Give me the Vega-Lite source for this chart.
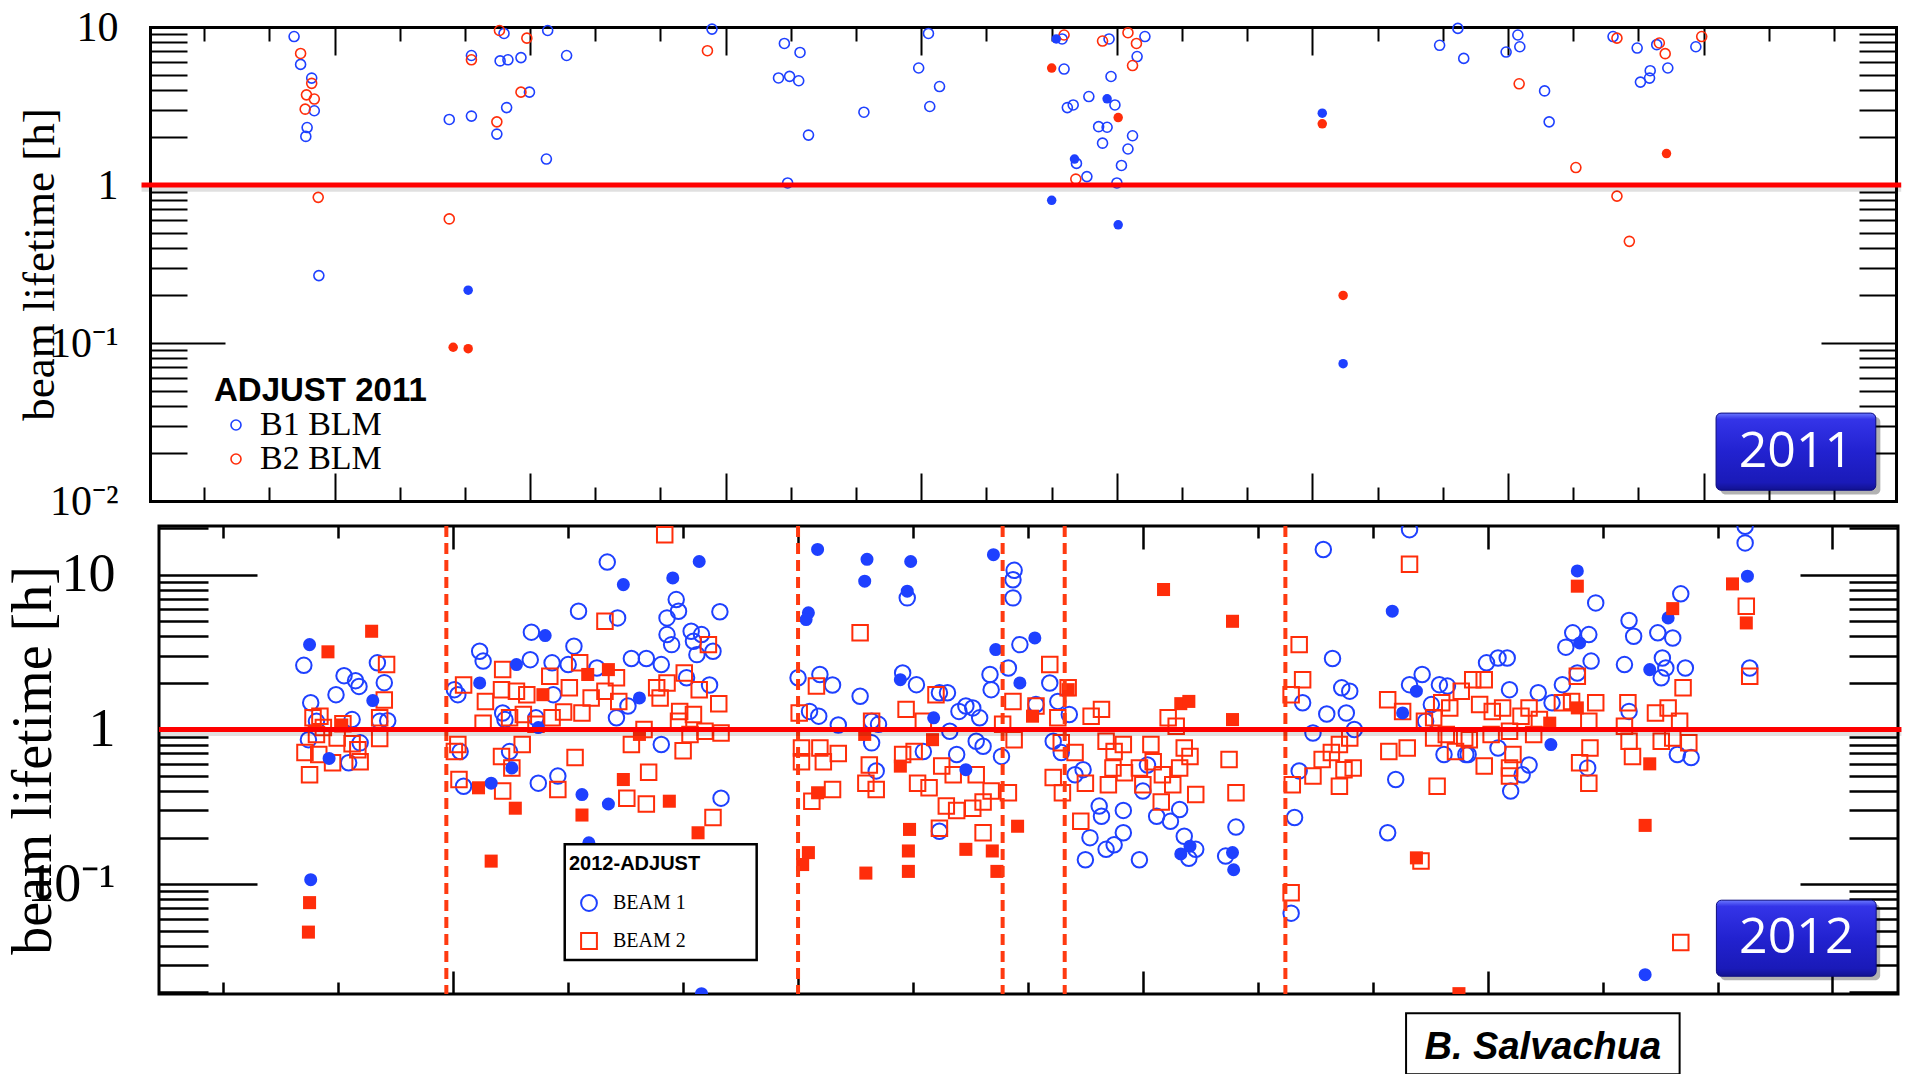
{
"$schema": "https://vega.github.io/schema/vega-lite/v6.json",
"background": "white",
"padding": {"left": 3, "top": 6, "right": 0, "bottom": 0},
"spacing": 0,
"config": {"view": {"stroke": "#000", "strokeWidth": 3}, "axis": {"grid": false, "labelFont": "Liberation Serif", "titleFont": "Liberation Serif"}},
"datasets": {
"y2011": [
{"d":13.8,"v":8.7,"b":"B1 BLM","f":0},{"d":14.8,"v":5.8,"b":"B1 BLM","f":0},{"d":16.5,"v":4.75,"b":"B1 BLM","f":0},{"d":16.9,"v":2.95,"b":"B1 BLM","f":0},{"d":15.8,"v":2.31,"b":"B1 BLM","f":0},{"d":15.6,"v":2.03,"b":"B1 BLM","f":0},{"d":17.6,"v":0.267,"b":"B1 BLM","f":0},{"d":37.6,"v":2.6,"b":"B1 BLM","f":0},{"d":41.0,"v":2.73,"b":"B1 BLM","f":0},{"d":41.0,"v":6.6,"b":"B1 BLM","f":0},{"d":44.9,"v":2.1,"b":"B1 BLM","f":0},{"d":45.4,"v":6.1,"b":"B1 BLM","f":0},{"d":46.0,"v":9.1,"b":"B1 BLM","f":0},{"d":46.6,"v":6.2,"b":"B1 BLM","f":0},{"d":48.6,"v":6.4,"b":"B1 BLM","f":0},{"d":46.4,"v":3.09,"b":"B1 BLM","f":0},{"d":49.9,"v":3.87,"b":"B1 BLM","f":0},{"d":52.7,"v":9.5,"b":"B1 BLM","f":0},{"d":52.5,"v":1.46,"b":"B1 BLM","f":0},{"d":55.6,"v":6.6,"b":"B1 BLM","f":0},
{"d":77.9,"v":9.7,"b":"B1 BLM","f":0},{"d":89.0,"v":7.87,"b":"B1 BLM","f":0},{"d":91.4,"v":6.9,"b":"B1 BLM","f":0},{"d":88.1,"v":4.76,"b":"B1 BLM","f":0},{"d":89.8,"v":4.87,"b":"B1 BLM","f":0},{"d":91.2,"v":4.57,"b":"B1 BLM","f":0},{"d":92.7,"v":2.07,"b":"B1 BLM","f":0},{"d":89.5,"v":1.03,"b":"B1 BLM","f":0},{"d":101.2,"v":2.89,"b":"B1 BLM","f":0},{"d":109.6,"v":5.5,"b":"B1 BLM","f":0},{"d":111.1,"v":9.1,"b":"B1 BLM","f":0},{"d":112.8,"v":4.2,"b":"B1 BLM","f":0},{"d":111.3,"v":3.14,"b":"B1 BLM","f":0},{"d":131.9,"v":5.42,"b":"B1 BLM","f":0},{"d":131.6,"v":8.4,"b":"B1 BLM","f":0},{"d":132.4,"v":3.09,"b":"B1 BLM","f":0},{"d":133.3,"v":3.21,"b":"B1 BLM","f":0},{"d":135.7,"v":3.63,"b":"B1 BLM","f":0},{"d":138.8,"v":8.4,"b":"B1 BLM","f":0},{"d":139.1,"v":4.86,"b":"B1 BLM","f":0},{"d":139.7,"v":3.21,"b":"B1 BLM","f":0},{"d":137.2,"v":2.34,"b":"B1 BLM","f":0},{"d":138.5,"v":2.32,"b":"B1 BLM","f":0},{"d":142.4,"v":2.05,"b":"B1 BLM","f":0},{"d":137.8,"v":1.84,"b":"B1 BLM","f":0},{"d":141.7,"v":1.69,"b":"B1 BLM","f":0},{"d":140.7,"v":1.33,"b":"B1 BLM","f":0},{"d":135.4,"v":1.13,"b":"B1 BLM","f":0},{"d":133.8,"v":1.37,"b":"B1 BLM","f":0},{"d":140.0,"v":1.03,"b":"B1 BLM","f":0},{"d":143.1,"v":6.5,"b":"B1 BLM","f":0},{"d":144.3,"v":8.7,"b":"B1 BLM","f":0},
{"d":192.3,"v":9.8,"b":"B1 BLM","f":0},{"d":189.5,"v":7.66,"b":"B1 BLM","f":0},{"d":193.2,"v":6.33,"b":"B1 BLM","f":0},{"d":199.7,"v":6.94,"b":"B1 BLM","f":0},{"d":201.5,"v":8.9,"b":"B1 BLM","f":0},{"d":201.8,"v":7.5,"b":"B1 BLM","f":0},{"d":205.6,"v":3.94,"b":"B1 BLM","f":0},{"d":206.3,"v":2.51,"b":"B1 BLM","f":0},{"d":216.1,"v":8.7,"b":"B1 BLM","f":0},{"d":219.8,"v":7.36,"b":"B1 BLM","f":0},{"d":222.8,"v":7.73,"b":"B1 BLM","f":0},{"d":224.5,"v":5.5,"b":"B1 BLM","f":0},{"d":221.8,"v":5.29,"b":"B1 BLM","f":0},{"d":221.7,"v":4.75,"b":"B1 BLM","f":0},{"d":220.3,"v":4.48,"b":"B1 BLM","f":0},{"d":228.8,"v":7.5,"b":"B1 BLM","f":0},
{"d":14.8,"v":6.8,"b":"B2 BLM","f":0},{"d":16.5,"v":4.4,"b":"B2 BLM","f":0},{"d":15.7,"v":3.72,"b":"B2 BLM","f":0},{"d":16.9,"v":3.5,"b":"B2 BLM","f":0},{"d":15.5,"v":3.02,"b":"B2 BLM","f":0},{"d":17.5,"v":0.835,"b":"B2 BLM","f":0},{"d":37.6,"v":0.61,"b":"B2 BLM","f":0},{"d":41.0,"v":6.2,"b":"B2 BLM","f":0},{"d":45.3,"v":9.5,"b":"B2 BLM","f":0},{"d":49.5,"v":8.5,"b":"B2 BLM","f":0},{"d":48.6,"v":3.87,"b":"B2 BLM","f":0},{"d":44.9,"v":2.51,"b":"B2 BLM","f":0},{"d":77.2,"v":7.08,"b":"B2 BLM","f":0},{"d":131.9,"v":8.9,"b":"B2 BLM","f":0},{"d":137.8,"v":8.15,"b":"B2 BLM","f":0},{"d":141.7,"v":9.2,"b":"B2 BLM","f":0},{"d":143.0,"v":7.87,"b":"B2 BLM","f":0},{"d":142.4,"v":5.7,"b":"B2 BLM","f":0},{"d":133.7,"v":1.09,"b":"B2 BLM","f":0},{"d":201.7,"v":4.37,"b":"B2 BLM","f":0},{"d":216.7,"v":8.5,"b":"B2 BLM","f":0},{"d":223.2,"v":7.92,"b":"B2 BLM","f":0},{"d":224.1,"v":6.78,"b":"B2 BLM","f":0},{"d":229.7,"v":8.7,"b":"B2 BLM","f":0},{"d":210.4,"v":1.29,"b":"B2 BLM","f":0},{"d":216.7,"v":0.85,"b":"B2 BLM","f":0},{"d":218.6,"v":0.44,"b":"B2 BLM","f":0},
{"d":40.5,"v":0.216,"b":"B1 BLM","f":1},{"d":130.7,"v":8.4,"b":"B1 BLM","f":1},{"d":138.5,"v":3.51,"b":"B1 BLM","f":1},{"d":133.5,"v":1.46,"b":"B1 BLM","f":1},{"d":130.0,"v":0.80,"b":"B1 BLM","f":1},{"d":140.2,"v":0.56,"b":"B1 BLM","f":1},{"d":171.5,"v":2.85,"b":"B1 BLM","f":1},{"d":174.7,"v":0.074,"b":"B1 BLM","f":1},
{"d":38.2,"v":0.094,"b":"B2 BLM","f":1},{"d":40.5,"v":0.092,"b":"B2 BLM","f":1},{"d":130.0,"v":5.5,"b":"B2 BLM","f":1},{"d":140.2,"v":2.67,"b":"B2 BLM","f":1},{"d":171.5,"v":2.44,"b":"B2 BLM","f":1},{"d":174.7,"v":0.2,"b":"B2 BLM","f":1},{"d":224.3,"v":1.58,"b":"B2 BLM","f":1}
],
"dash": [{"u":19.4},{"u":50.0},{"u":67.8},{"u":73.2},{"u":92.4}],
"y2012": [
{"u":7.5,"v":3.54,"b":"BEAM 1","f":1},{"u":13.0,"v":1.54,"b":"BEAM 1","f":1},{"u":9.2,"v":0.65,"b":"BEAM 1","f":1},{"u":7.6,"v":0.107,"b":"BEAM 1","f":1},{"u":22.3,"v":2.0,"b":"BEAM 1","f":1},{"u":25.5,"v":2.63,"b":"BEAM 1","f":1},{"u":28.0,"v":4.05,"b":"BEAM 1","f":1},{"u":23.3,"v":0.45,"b":"BEAM 1","f":1},{"u":31.2,"v":0.38,"b":"BEAM 1","f":1},{"u":31.8,"v":0.185,"b":"BEAM 1","f":1},{"u":25.1,"v":0.565,"b":"BEAM 1","f":1},{"u":27.4,"v":1.03,"b":"BEAM 1","f":1},{"u":34.8,"v":8.65,"b":"BEAM 1","f":1},{"u":39.1,"v":9.55,"b":"BEAM 1","f":1},{"u":41.4,"v":12.2,"b":"BEAM 1","f":1},{"u":36.2,"v":1.6,"b":"BEAM 1","f":1},{"u":33.5,"v":0.33,"b":"BEAM 1","f":1},{"u":41.6,"v":0.0196,"b":"BEAM 1","f":1},{"u":51.7,"v":14.6,"b":"BEAM 1","f":1},{"u":50.9,"v":5.68,"b":"BEAM 1","f":1},{"u":50.7,"v":5.14,"b":"BEAM 1","f":1},{"u":56.0,"v":12.6,"b":"BEAM 1","f":1},{"u":55.8,"v":9.1,"b":"BEAM 1","f":1},{"u":59.8,"v":12.2,"b":"BEAM 1","f":1},{"u":59.5,"v":7.84,"b":"BEAM 1","f":1},{"u":67.0,"v":13.5,"b":"BEAM 1","f":1},{"u":67.2,"v":3.29,"b":"BEAM 1","f":1},{"u":69.3,"v":2.0,"b":"BEAM 1","f":1},{"u":70.6,"v":3.91,"b":"BEAM 1","f":1},{"u":58.9,"v":2.1,"b":"BEAM 1","f":1},{"u":61.8,"v":1.19,"b":"BEAM 1","f":1},{"u":64.6,"v":0.55,"b":"BEAM 1","f":1},{"u":83.3,"v":0.157,"b":"BEAM 1","f":1},{"u":84.1,"v":0.176,"b":"BEAM 1","f":1},{"u":87.8,"v":0.16,"b":"BEAM 1","f":1},{"u":87.9,"v":0.124,"b":"BEAM 1","f":1},{"u":101.7,"v":5.82,"b":"BEAM 1","f":1},{"u":103.8,"v":1.77,"b":"BEAM 1","f":1},{"u":102.6,"v":1.28,"b":"BEAM 1","f":1},{"u":117.8,"v":10.6,"b":"BEAM 1","f":1},{"u":118.0,"v":3.63,"b":"BEAM 1","f":1},{"u":124.1,"v":2.44,"b":"BEAM 1","f":1},{"u":115.5,"v":0.8,"b":"BEAM 1","f":1},{"u":132.6,"v":9.8,"b":"BEAM 1","f":1},{"u":123.7,"v":0.026,"b":"BEAM 1","f":1},{"u":125.7,"v":5.27,"b":"BEAM 1","f":1},
{"u":9.1,"v":3.18,"b":"BEAM 2","f":1},{"u":12.9,"v":4.32,"b":"BEAM 2","f":1},{"u":7.5,"v":0.076,"b":"BEAM 2","f":1},{"u":7.4,"v":0.049,"b":"BEAM 2","f":1},{"u":10.3,"v":1.07,"b":"BEAM 2","f":1},{"u":22.2,"v":0.42,"b":"BEAM 2","f":1},{"u":25.4,"v":0.31,"b":"BEAM 2","f":1},{"u":23.3,"v":0.141,"b":"BEAM 2","f":1},{"u":31.2,"v":0.28,"b":"BEAM 2","f":1},{"u":27.8,"v":1.68,"b":"BEAM 2","f":1},{"u":31.7,"v":2.27,"b":"BEAM 2","f":1},{"u":33.5,"v":2.44,"b":"BEAM 2","f":1},{"u":34.8,"v":0.475,"b":"BEAM 2","f":1},{"u":38.8,"v":0.344,"b":"BEAM 2","f":1},{"u":41.3,"v":0.215,"b":"BEAM 2","f":1},{"u":36.2,"v":0.93,"b":"BEAM 2","f":1},{"u":50.9,"v":0.16,"b":"BEAM 2","f":1},{"u":50.4,"v":0.134,"b":"BEAM 2","f":1},{"u":51.7,"v":0.39,"b":"BEAM 2","f":1},{"u":55.9,"v":0.118,"b":"BEAM 2","f":1},{"u":59.7,"v":0.226,"b":"BEAM 2","f":1},{"u":59.6,"v":0.164,"b":"BEAM 2","f":1},{"u":59.6,"v":0.121,"b":"BEAM 2","f":1},{"u":64.6,"v":0.168,"b":"BEAM 2","f":1},{"u":66.9,"v":0.164,"b":"BEAM 2","f":1},{"u":67.3,"v":0.121,"b":"BEAM 2","f":1},{"u":69.1,"v":0.237,"b":"BEAM 2","f":1},{"u":58.9,"v":0.58,"b":"BEAM 2","f":1},{"u":55.8,"v":0.93,"b":"BEAM 2","f":1},{"u":61.7,"v":0.86,"b":"BEAM 2","f":1},{"u":70.4,"v":1.22,"b":"BEAM 2","f":1},{"u":73.5,"v":1.81,"b":"BEAM 2","f":1},{"u":81.8,"v":8.04,"b":"BEAM 2","f":1},{"u":87.8,"v":5.01,"b":"BEAM 2","f":1},{"u":87.8,"v":1.16,"b":"BEAM 2","f":1},{"u":83.3,"v":1.47,"b":"BEAM 2","f":1},{"u":84.0,"v":1.52,"b":"BEAM 2","f":1},{"u":103.8,"v":0.148,"b":"BEAM 2","f":1},{"u":107.5,"v":0.0196,"b":"BEAM 2","f":1},{"u":117.8,"v":8.45,"b":"BEAM 2","f":1},{"u":131.3,"v":8.74,"b":"BEAM 2","f":1},{"u":126.1,"v":6.05,"b":"BEAM 2","f":1},{"u":132.5,"v":4.89,"b":"BEAM 2","f":1},{"u":124.1,"v":0.6,"b":"BEAM 2","f":1},{"u":123.7,"v":0.24,"b":"BEAM 2","f":1},{"u":115.4,"v":1.1,"b":"BEAM 2","f":1},{"u":117.8,"v":1.38,"b":"BEAM 2","f":1},
{"u":7.0,"v":2.6,"b":"BEAM 1","f":0},{"u":7.6,"v":1.49,"b":"BEAM 1","f":0},{"u":9.8,"v":1.68,"b":"BEAM 1","f":0},{"u":10.5,"v":2.23,"b":"BEAM 1","f":0},{"u":11.5,"v":2.07,"b":"BEAM 1","f":0},{"u":11.8,"v":1.9,"b":"BEAM 1","f":0},{"u":13.4,"v":2.7,"b":"BEAM 1","f":0},{"u":14.0,"v":2.01,"b":"BEAM 1","f":0},{"u":11.2,"v":1.16,"b":"BEAM 1","f":0},{"u":14.3,"v":1.14,"b":"BEAM 1","f":0},{"u":7.4,"v":0.86,"b":"BEAM 1","f":0},{"u":8.1,"v":1.13,"b":"BEAM 1","f":0},{"u":10.9,"v":0.61,"b":"BEAM 1","f":0},{"u":11.9,"v":0.82,"b":"BEAM 1","f":0},{"u":13.6,"v":1.13,"b":"BEAM 1","f":0},
{"u":20.4,"v":1.68,"b":"BEAM 1","f":0},{"u":20.1,"v":1.81,"b":"BEAM 1","f":0},{"u":22.3,"v":3.21,"b":"BEAM 1","f":0},{"u":22.6,"v":2.77,"b":"BEAM 1","f":0},{"u":26.8,"v":4.26,"b":"BEAM 1","f":0},{"u":26.7,"v":2.83,"b":"BEAM 1","f":0},{"u":28.6,"v":2.7,"b":"BEAM 1","f":0},{"u":30.9,"v":5.82,"b":"BEAM 1","f":0},{"u":30.5,"v":3.46,"b":"BEAM 1","f":0},{"u":30.0,"v":2.63,"b":"BEAM 1","f":0},{"u":24.3,"v":1.28,"b":"BEAM 1","f":0},{"u":24.5,"v":1.16,"b":"BEAM 1","f":0},{"u":20.6,"v":0.72,"b":"BEAM 1","f":0},{"u":20.9,"v":0.43,"b":"BEAM 1","f":0},{"u":27.4,"v":0.45,"b":"BEAM 1","f":0},{"u":29.1,"v":0.50,"b":"BEAM 1","f":0},{"u":24.9,"v":0.72,"b":"BEAM 1","f":0},{"u":28.7,"v":1.68,"b":"BEAM 1","f":0},{"u":27.2,"v":1.19,"b":"BEAM 1","f":0},
{"u":33.4,"v":12.1,"b":"BEAM 1","f":0},{"u":34.3,"v":5.27,"b":"BEAM 1","f":0},{"u":39.4,"v":6.92,"b":"BEAM 1","f":0},{"u":39.6,"v":5.82,"b":"BEAM 1","f":0},{"u":38.6,"v":5.27,"b":"BEAM 1","f":0},{"u":38.6,"v":4.11,"b":"BEAM 1","f":0},{"u":39.0,"v":3.54,"b":"BEAM 1","f":0},{"u":40.7,"v":4.32,"b":"BEAM 1","f":0},{"u":41.6,"v":4.11,"b":"BEAM 1","f":0},{"u":40.9,"v":3.72,"b":"BEAM 1","f":0},{"u":41.2,"v":3.05,"b":"BEAM 1","f":0},{"u":42.6,"v":3.21,"b":"BEAM 1","f":0},{"u":43.2,"v":5.77,"b":"BEAM 1","f":0},{"u":35.5,"v":2.88,"b":"BEAM 1","f":0},{"u":36.8,"v":2.88,"b":"BEAM 1","f":0},{"u":38.1,"v":2.63,"b":"BEAM 1","f":0},{"u":42.3,"v":1.94,"b":"BEAM 1","f":0},{"u":40.3,"v":2.16,"b":"BEAM 1","f":0},{"u":34.2,"v":1.19,"b":"BEAM 1","f":0},{"u":35.2,"v":1.42,"b":"BEAM 1","f":0},{"u":38.1,"v":0.8,"b":"BEAM 1","f":0},{"u":43.3,"v":0.36,"b":"BEAM 1","f":0},{"u":32.5,"v":2.5,"b":"BEAM 1","f":0},
{"u":50.0,"v":2.16,"b":"BEAM 1","f":0},{"u":51.9,"v":2.27,"b":"BEAM 1","f":0},{"u":53.0,"v":1.94,"b":"BEAM 1","f":0},{"u":55.4,"v":1.64,"b":"BEAM 1","f":0},{"u":51.0,"v":1.31,"b":"BEAM 1","f":0},{"u":51.8,"v":1.22,"b":"BEAM 1","f":0},{"u":53.5,"v":1.07,"b":"BEAM 1","f":0},{"u":56.4,"v":1.13,"b":"BEAM 1","f":0},{"u":57.0,"v":1.08,"b":"BEAM 1","f":0},{"u":56.4,"v":0.82,"b":"BEAM 1","f":0},{"u":56.8,"v":0.54,"b":"BEAM 1","f":0},{"u":59.1,"v":2.32,"b":"BEAM 1","f":0},{"u":60.3,"v":1.95,"b":"BEAM 1","f":0},{"u":62.3,"v":1.73,"b":"BEAM 1","f":0},{"u":63.0,"v":1.73,"b":"BEAM 1","f":0},{"u":64.0,"v":1.31,"b":"BEAM 1","f":0},{"u":64.6,"v":1.42,"b":"BEAM 1","f":0},{"u":65.2,"v":1.38,"b":"BEAM 1","f":0},{"u":65.8,"v":1.19,"b":"BEAM 1","f":0},{"u":63.2,"v":0.975,"b":"BEAM 1","f":0},{"u":65.5,"v":0.84,"b":"BEAM 1","f":0},{"u":66.1,"v":0.78,"b":"BEAM 1","f":0},{"u":60.9,"v":0.72,"b":"BEAM 1","f":0},{"u":63.8,"v":0.69,"b":"BEAM 1","f":0},{"u":67.7,"v":0.67,"b":"BEAM 1","f":0},{"u":66.7,"v":2.27,"b":"BEAM 1","f":0},{"u":66.8,"v":1.81,"b":"BEAM 1","f":0},{"u":68.3,"v":2.5,"b":"BEAM 1","f":0},{"u":69.3,"v":3.54,"b":"BEAM 1","f":0},{"u":68.8,"v":10.7,"b":"BEAM 1","f":0},{"u":68.7,"v":9.3,"b":"BEAM 1","f":0},{"u":68.7,"v":7.1,"b":"BEAM 1","f":0},{"u":59.5,"v":7.1,"b":"BEAM 1","f":0},{"u":62.3,"v":0.22,"b":"BEAM 1","f":0},
{"u":71.9,"v":2.0,"b":"BEAM 1","f":0},{"u":72.6,"v":1.52,"b":"BEAM 1","f":0},{"u":70.7,"v":1.45,"b":"BEAM 1","f":0},{"u":73.6,"v":1.25,"b":"BEAM 1","f":0},{"u":72.2,"v":0.84,"b":"BEAM 1","f":0},{"u":72.9,"v":0.71,"b":"BEAM 1","f":0},{"u":74.1,"v":0.51,"b":"BEAM 1","f":0},{"u":74.8,"v":0.55,"b":"BEAM 1","f":0},{"u":76.2,"v":0.32,"b":"BEAM 1","f":0},{"u":76.4,"v":0.275,"b":"BEAM 1","f":0},{"u":78.3,"v":0.3,"b":"BEAM 1","f":0},{"u":78.3,"v":0.215,"b":"BEAM 1","f":0},{"u":75.4,"v":0.2,"b":"BEAM 1","f":0},{"u":75.0,"v":0.144,"b":"BEAM 1","f":0},{"u":76.8,"v":0.168,"b":"BEAM 1","f":0},{"u":77.5,"v":0.18,"b":"BEAM 1","f":0},{"u":79.7,"v":0.144,"b":"BEAM 1","f":0},{"u":80.0,"v":0.4,"b":"BEAM 1","f":0},{"u":81.2,"v":0.275,"b":"BEAM 1","f":0},{"u":82.4,"v":0.255,"b":"BEAM 1","f":0},{"u":83.2,"v":0.304,"b":"BEAM 1","f":0},{"u":80.4,"v":0.59,"b":"BEAM 1","f":0},{"u":83.6,"v":0.204,"b":"BEAM 1","f":0},{"u":84.6,"v":0.168,"b":"BEAM 1","f":0},{"u":84.0,"v":0.147,"b":"BEAM 1","f":0},{"u":87.2,"v":0.152,"b":"BEAM 1","f":0},{"u":88.1,"v":0.234,"b":"BEAM 1","f":0},
{"u":95.7,"v":14.6,"b":"BEAM 1","f":0},{"u":103.2,"v":19.6,"b":"BEAM 1","f":0},{"u":96.5,"v":2.88,"b":"BEAM 1","f":0},{"u":97.3,"v":1.86,"b":"BEAM 1","f":0},{"u":98.0,"v":1.77,"b":"BEAM 1","f":0},{"u":93.9,"v":1.49,"b":"BEAM 1","f":0},{"u":94.8,"v":0.95,"b":"BEAM 1","f":0},{"u":96.0,"v":1.26,"b":"BEAM 1","f":0},{"u":97.7,"v":1.28,"b":"BEAM 1","f":0},{"u":98.4,"v":1.0,"b":"BEAM 1","f":0},{"u":93.6,"v":0.54,"b":"BEAM 1","f":0},{"u":93.2,"v":0.27,"b":"BEAM 1","f":0},{"u":92.9,"v":0.065,"b":"BEAM 1","f":0},{"u":101.3,"v":0.215,"b":"BEAM 1","f":0},{"u":102.0,"v":0.475,"b":"BEAM 1","f":0},{"u":103.2,"v":1.95,"b":"BEAM 1","f":0},{"u":104.3,"v":2.27,"b":"BEAM 1","f":0},{"u":105.8,"v":1.95,"b":"BEAM 1","f":0},{"u":106.5,"v":1.91,"b":"BEAM 1","f":0},{"u":105.1,"v":1.45,"b":"BEAM 1","f":0},{"u":106.2,"v":0.69,"b":"BEAM 1","f":0},{"u":108.1,"v":0.69,"b":"BEAM 1","f":0},{"u":104.6,"v":1.13,"b":"BEAM 1","f":0},
{"u":109.9,"v":2.7,"b":"BEAM 1","f":0},{"u":110.9,"v":2.9,"b":"BEAM 1","f":0},{"u":111.7,"v":2.9,"b":"BEAM 1","f":0},{"u":111.9,"v":1.81,"b":"BEAM 1","f":0},{"u":114.4,"v":1.73,"b":"BEAM 1","f":0},{"u":115.6,"v":1.49,"b":"BEAM 1","f":0},{"u":116.5,"v":1.95,"b":"BEAM 1","f":0},{"u":108.3,"v":0.69,"b":"BEAM 1","f":0},{"u":110.9,"v":0.76,"b":"BEAM 1","f":0},{"u":113.6,"v":0.59,"b":"BEAM 1","f":0},{"u":112.0,"v":0.4,"b":"BEAM 1","f":0},{"u":113.0,"v":0.51,"b":"BEAM 1","f":0},{"u":116.8,"v":3.41,"b":"BEAM 1","f":0},{"u":117.4,"v":4.22,"b":"BEAM 1","f":0},{"u":118.8,"v":4.11,"b":"BEAM 1","f":0},{"u":119.4,"v":6.59,"b":"BEAM 1","f":0},{"u":119.0,"v":2.77,"b":"BEAM 1","f":0},{"u":117.8,"v":2.32,"b":"BEAM 1","f":0},{"u":121.9,"v":2.63,"b":"BEAM 1","f":0},{"u":122.3,"v":5.07,"b":"BEAM 1","f":0},{"u":122.7,"v":4.01,"b":"BEAM 1","f":0},{"u":124.8,"v":4.22,"b":"BEAM 1","f":0},{"u":126.1,"v":3.91,"b":"BEAM 1","f":0},{"u":126.8,"v":7.54,"b":"BEAM 1","f":0},{"u":125.2,"v":2.9,"b":"BEAM 1","f":0},{"u":125.5,"v":2.5,"b":"BEAM 1","f":0},{"u":125.1,"v":2.16,"b":"BEAM 1","f":0},{"u":127.2,"v":2.5,"b":"BEAM 1","f":0},{"u":118.7,"v":0.565,"b":"BEAM 1","f":0},{"u":122.3,"v":1.31,"b":"BEAM 1","f":0},{"u":126.5,"v":0.69,"b":"BEAM 1","f":0},{"u":127.7,"v":0.66,"b":"BEAM 1","f":0},{"u":132.4,"v":20.6,"b":"BEAM 1","f":0},{"u":132.4,"v":16.1,"b":"BEAM 1","f":0},{"u":132.8,"v":2.5,"b":"BEAM 1","f":0},
{"u":14.2,"v":2.63,"b":"BEAM 2","f":0},{"u":14.0,"v":1.55,"b":"BEAM 2","f":0},{"u":13.6,"v":1.19,"b":"BEAM 2","f":0},{"u":13.6,"v":0.875,"b":"BEAM 2","f":0},{"u":7.8,"v":1.19,"b":"BEAM 2","f":0},{"u":8.4,"v":1.22,"b":"BEAM 2","f":0},{"u":8.7,"v":1.03,"b":"BEAM 2","f":0},{"u":7.1,"v":0.71,"b":"BEAM 2","f":0},{"u":7.5,"v":0.51,"b":"BEAM 2","f":0},{"u":8.3,"v":0.69,"b":"BEAM 2","f":0},{"u":9.5,"v":0.61,"b":"BEAM 2","f":0},{"u":10.4,"v":1.09,"b":"BEAM 2","f":0},{"u":11.2,"v":0.81,"b":"BEAM 2","f":0},{"u":11.7,"v":0.74,"b":"BEAM 2","f":0},{"u":11.9,"v":0.62,"b":"BEAM 2","f":0},{"u":9.9,"v":0.88,"b":"BEAM 2","f":0},{"u":8.1,"v":0.93,"b":"BEAM 2","f":0},
{"u":20.9,"v":1.94,"b":"BEAM 2","f":0},{"u":22.8,"v":1.52,"b":"BEAM 2","f":0},{"u":24.3,"v":2.44,"b":"BEAM 2","f":0},{"u":24.2,"v":1.81,"b":"BEAM 2","f":0},{"u":25.5,"v":1.77,"b":"BEAM 2","f":0},{"u":26.4,"v":1.68,"b":"BEAM 2","f":0},{"u":28.4,"v":2.21,"b":"BEAM 2","f":0},{"u":30.1,"v":1.86,"b":"BEAM 2","f":0},{"u":31.0,"v":2.7,"b":"BEAM 2","f":0},{"u":32.0,"v":1.6,"b":"BEAM 2","f":0},{"u":22.6,"v":1.1,"b":"BEAM 2","f":0},{"u":24.9,"v":1.19,"b":"BEAM 2","f":0},{"u":26.1,"v":1.25,"b":"BEAM 2","f":0},{"u":28.6,"v":1.19,"b":"BEAM 2","f":0},{"u":29.6,"v":1.3,"b":"BEAM 2","f":0},{"u":31.2,"v":1.28,"b":"BEAM 2","f":0},{"u":27.2,"v":1.08,"b":"BEAM 2","f":0},{"u":20.4,"v":0.8,"b":"BEAM 2","f":0},{"u":20.1,"v":0.72,"b":"BEAM 2","f":0},{"u":20.5,"v":0.475,"b":"BEAM 2","f":0},{"u":24.2,"v":0.67,"b":"BEAM 2","f":0},{"u":26.0,"v":0.8,"b":"BEAM 2","f":0},{"u":25.1,"v":0.565,"b":"BEAM 2","f":0},{"u":24.3,"v":0.4,"b":"BEAM 2","f":0},{"u":30.6,"v":0.66,"b":"BEAM 2","f":0},{"u":29.1,"v":0.41,"b":"BEAM 2","f":0},
{"u":38.4,"v":18.2,"b":"BEAM 2","f":0},{"u":33.2,"v":5.01,"b":"BEAM 2","f":0},{"u":42.2,"v":3.54,"b":"BEAM 2","f":0},{"u":34.2,"v":2.16,"b":"BEAM 2","f":0},{"u":33.2,"v":1.77,"b":"BEAM 2","f":0},{"u":34.4,"v":1.52,"b":"BEAM 2","f":0},{"u":37.7,"v":1.86,"b":"BEAM 2","f":0},{"u":38.6,"v":2.0,"b":"BEAM 2","f":0},{"u":40.1,"v":2.32,"b":"BEAM 2","f":0},{"u":41.4,"v":1.81,"b":"BEAM 2","f":0},{"u":43.1,"v":1.47,"b":"BEAM 2","f":0},{"u":38.0,"v":1.6,"b":"BEAM 2","f":0},{"u":39.7,"v":1.31,"b":"BEAM 2","f":0},{"u":40.9,"v":1.25,"b":"BEAM 2","f":0},{"u":36.6,"v":1.0,"b":"BEAM 2","f":0},{"u":35.5,"v":0.8,"b":"BEAM 2","f":0},{"u":40.0,"v":0.73,"b":"BEAM 2","f":0},{"u":41.9,"v":0.975,"b":"BEAM 2","f":0},{"u":43.3,"v":0.95,"b":"BEAM 2","f":0},{"u":40.6,"v":0.93,"b":"BEAM 2","f":0},{"u":37.0,"v":0.53,"b":"BEAM 2","f":0},{"u":35.1,"v":0.36,"b":"BEAM 2","f":0},{"u":36.8,"v":0.33,"b":"BEAM 2","f":0},{"u":42.6,"v":0.27,"b":"BEAM 2","f":0},{"u":39.6,"v":1.13,"b":"BEAM 2","f":0},
{"u":55.4,"v":4.22,"b":"BEAM 2","f":0},{"u":51.6,"v":1.91,"b":"BEAM 2","f":0},{"u":50.1,"v":1.28,"b":"BEAM 2","f":0},{"u":50.3,"v":0.76,"b":"BEAM 2","f":0},{"u":50.3,"v":0.62,"b":"BEAM 2","f":0},{"u":51.9,"v":0.76,"b":"BEAM 2","f":0},{"u":53.5,"v":0.7,"b":"BEAM 2","f":0},{"u":52.2,"v":0.62,"b":"BEAM 2","f":0},{"u":53.0,"v":0.41,"b":"BEAM 2","f":0},{"u":51.2,"v":0.344,"b":"BEAM 2","f":0},{"u":56.4,"v":1.13,"b":"BEAM 2","f":0},{"u":56.2,"v":0.59,"b":"BEAM 2","f":0},{"u":55.9,"v":0.45,"b":"BEAM 2","f":0},{"u":56.8,"v":0.41,"b":"BEAM 2","f":0},{"u":59.4,"v":1.35,"b":"BEAM 2","f":0},{"u":59.1,"v":0.69,"b":"BEAM 2","f":0},{"u":60.1,"v":0.72,"b":"BEAM 2","f":0},{"u":60.4,"v":0.45,"b":"BEAM 2","f":0},{"u":61.4,"v":0.42,"b":"BEAM 2","f":0},{"u":62.0,"v":1.68,"b":"BEAM 2","f":0},{"u":62.5,"v":0.58,"b":"BEAM 2","f":0},{"u":63.5,"v":0.51,"b":"BEAM 2","f":0},{"u":62.9,"v":0.32,"b":"BEAM 2","f":0},{"u":63.8,"v":0.3,"b":"BEAM 2","f":0},{"u":65.2,"v":0.31,"b":"BEAM 2","f":0},{"u":66.1,"v":0.34,"b":"BEAM 2","f":0},{"u":65.5,"v":0.51,"b":"BEAM 2","f":0},{"u":66.8,"v":0.4,"b":"BEAM 2","f":0},{"u":68.3,"v":0.39,"b":"BEAM 2","f":0},{"u":66.1,"v":0.215,"b":"BEAM 2","f":0},{"u":62.3,"v":0.23,"b":"BEAM 2","f":0},{"u":67.8,"v":1.08,"b":"BEAM 2","f":0},{"u":68.8,"v":0.86,"b":"BEAM 2","f":0},{"u":68.7,"v":1.52,"b":"BEAM 2","f":0},{"u":60.9,"v":1.13,"b":"BEAM 2","f":0},
{"u":71.9,"v":2.63,"b":"BEAM 2","f":0},{"u":73.5,"v":1.86,"b":"BEAM 2","f":0},{"u":70.7,"v":1.42,"b":"BEAM 2","f":0},{"u":72.6,"v":1.19,"b":"BEAM 2","f":0},{"u":75.5,"v":1.22,"b":"BEAM 2","f":0},{"u":76.4,"v":1.35,"b":"BEAM 2","f":0},{"u":72.9,"v":0.82,"b":"BEAM 2","f":0},{"u":74.1,"v":0.71,"b":"BEAM 2","f":0},{"u":72.2,"v":0.49,"b":"BEAM 2","f":0},{"u":73.0,"v":0.39,"b":"BEAM 2","f":0},{"u":74.6,"v":0.255,"b":"BEAM 2","f":0},{"u":75.0,"v":0.45,"b":"BEAM 2","f":0},{"u":76.8,"v":0.84,"b":"BEAM 2","f":0},{"u":77.5,"v":0.72,"b":"BEAM 2","f":0},{"u":78.3,"v":0.8,"b":"BEAM 2","f":0},{"u":77.4,"v":0.565,"b":"BEAM 2","f":0},{"u":78.4,"v":0.525,"b":"BEAM 2","f":0},{"u":77.0,"v":0.44,"b":"BEAM 2","f":0},{"u":79.7,"v":0.565,"b":"BEAM 2","f":0},{"u":80.0,"v":0.44,"b":"BEAM 2","f":0},{"u":80.7,"v":0.8,"b":"BEAM 2","f":0},{"u":80.9,"v":0.62,"b":"BEAM 2","f":0},{"u":81.7,"v":0.51,"b":"BEAM 2","f":0},{"u":81.6,"v":0.34,"b":"BEAM 2","f":0},{"u":82.2,"v":1.19,"b":"BEAM 2","f":0},{"u":82.9,"v":1.05,"b":"BEAM 2","f":0},{"u":83.6,"v":0.76,"b":"BEAM 2","f":0},{"u":84.1,"v":0.67,"b":"BEAM 2","f":0},{"u":83.2,"v":0.565,"b":"BEAM 2","f":0},{"u":82.6,"v":0.44,"b":"BEAM 2","f":0},{"u":84.6,"v":0.38,"b":"BEAM 2","f":0},{"u":87.5,"v":0.64,"b":"BEAM 2","f":0},{"u":88.1,"v":0.39,"b":"BEAM 2","f":0},
{"u":93.6,"v":3.54,"b":"BEAM 2","f":0},{"u":93.9,"v":2.1,"b":"BEAM 2","f":0},{"u":92.9,"v":1.68,"b":"BEAM 2","f":0},{"u":92.9,"v":0.088,"b":"BEAM 2","f":0},{"u":93.0,"v":0.44,"b":"BEAM 2","f":0},{"u":94.8,"v":0.5,"b":"BEAM 2","f":0},{"u":95.6,"v":0.64,"b":"BEAM 2","f":0},{"u":96.4,"v":0.71,"b":"BEAM 2","f":0},{"u":97.1,"v":0.8,"b":"BEAM 2","f":0},{"u":97.1,"v":0.43,"b":"BEAM 2","f":0},{"u":97.5,"v":0.55,"b":"BEAM 2","f":0},{"u":98.3,"v":0.565,"b":"BEAM 2","f":0},{"u":98.0,"v":0.88,"b":"BEAM 2","f":0},{"u":101.3,"v":1.56,"b":"BEAM 2","f":0},{"u":101.4,"v":0.72,"b":"BEAM 2","f":0},{"u":102.6,"v":1.31,"b":"BEAM 2","f":0},{"u":103.0,"v":0.76,"b":"BEAM 2","f":0},{"u":103.2,"v":11.7,"b":"BEAM 2","f":0},{"u":104.2,"v":0.141,"b":"BEAM 2","f":0},{"u":105.6,"v":0.43,"b":"BEAM 2","f":0},{"u":104.5,"v":1.13,"b":"BEAM 2","f":0},{"u":105.3,"v":1.19,"b":"BEAM 2","f":0},{"u":106.0,"v":1.49,"b":"BEAM 2","f":0},{"u":106.7,"v":1.38,"b":"BEAM 2","f":0},{"u":107.7,"v":1.77,"b":"BEAM 2","f":0},{"u":108.7,"v":2.1,"b":"BEAM 2","f":0},{"u":105.3,"v":0.88,"b":"BEAM 2","f":0},{"u":106.4,"v":0.93,"b":"BEAM 2","f":0},{"u":107.2,"v":0.72,"b":"BEAM 2","f":0},{"u":108.4,"v":0.86,"b":"BEAM 2","f":0},
{"u":109.7,"v":2.1,"b":"BEAM 2","f":0},{"u":109.3,"v":1.45,"b":"BEAM 2","f":0},{"u":110.4,"v":1.31,"b":"BEAM 2","f":0},{"u":111.3,"v":1.38,"b":"BEAM 2","f":0},{"u":112.9,"v":1.22,"b":"BEAM 2","f":0},{"u":113.6,"v":1.38,"b":"BEAM 2","f":0},{"u":114.5,"v":1.16,"b":"BEAM 2","f":0},{"u":108.0,"v":0.88,"b":"BEAM 2","f":0},{"u":110.3,"v":0.93,"b":"BEAM 2","f":0},{"u":111.9,"v":0.975,"b":"BEAM 2","f":0},{"u":114.0,"v":0.93,"b":"BEAM 2","f":0},{"u":109.7,"v":0.58,"b":"BEAM 2","f":0},{"u":112.2,"v":0.69,"b":"BEAM 2","f":0},{"u":111.9,"v":0.565,"b":"BEAM 2","f":0},{"u":111.9,"v":0.5,"b":"BEAM 2","f":0},{"u":116.5,"v":1.49,"b":"BEAM 2","f":0},{"u":117.3,"v":1.52,"b":"BEAM 2","f":0},{"u":117.8,"v":2.21,"b":"BEAM 2","f":0},{"u":119.4,"v":1.49,"b":"BEAM 2","f":0},{"u":118.8,"v":1.13,"b":"BEAM 2","f":0},{"u":118.9,"v":0.76,"b":"BEAM 2","f":0},{"u":118.0,"v":0.61,"b":"BEAM 2","f":0},{"u":118.8,"v":0.45,"b":"BEAM 2","f":0},{"u":122.2,"v":1.49,"b":"BEAM 2","f":0},{"u":121.9,"v":1.05,"b":"BEAM 2","f":0},{"u":122.3,"v":0.84,"b":"BEAM 2","f":0},{"u":122.6,"v":0.67,"b":"BEAM 2","f":0},{"u":124.6,"v":1.28,"b":"BEAM 2","f":0},{"u":125.7,"v":1.38,"b":"BEAM 2","f":0},{"u":126.7,"v":1.13,"b":"BEAM 2","f":0},{"u":126.1,"v":0.88,"b":"BEAM 2","f":0},{"u":125.1,"v":0.84,"b":"BEAM 2","f":0},{"u":127.5,"v":0.82,"b":"BEAM 2","f":0},{"u":127.0,"v":1.86,"b":"BEAM 2","f":0},{"u":126.8,"v":0.042,"b":"BEAM 2","f":0},{"u":132.5,"v":6.27,"b":"BEAM 2","f":0},{"u":132.8,"v":2.21,"b":"BEAM 2","f":0}
]
},
"resolve": {"scale": {"x": "independent", "y": "independent", "stroke": "independent", "shape": "independent"}, "legend": {"stroke": "independent", "shape": "independent"}},
"vconcat": [
{
"width": 1737, "height": 474,
"view": {"stroke": null},
"data": {"name": "y2011"},
"resolve": {"axis": {"x": "independent", "y": "independent"}},
"layer": [
{
"transform": [{"filter": "datum.f == 0"}],
"mark": {"type": "point", "shape": "circle", "filled": false, "size": 100, "strokeWidth": 1.6, "opacity": 1},
"encoding": {
"x": {"field": "d", "type": "quantitative", "scale": {"domain": [-8.3, 259.5], "range": [-9, 1737], "nice": false, "zero": false},
"axis": {"orient": "bottom", "values": [0,10,20,30,40,50,60,70,80,90,100,110,120,130,140,150,160,170,180,190,200,210,220,230,240,250], "labels": false, "title": null, "grid": false, "domain": true, "domainColor": "#000", "domainWidth": 3, "domainCap": "square", "ticks": true, "tickColor": "#000", "tickWidth": 2, "tickSize": {"condition": {"test": "datum.value % 30 == 20", "value": -28}, "value": -14}}},
"y": {"field": "v", "type": "quantitative", "scale": {"type": "log", "domain": [0.01, 10], "nice": false},
"axis": {"orient": "left", "offset": 9, "values": [0.01, 0.1, 1, 10], "labelExpr": "datum.value == 10 ? '10' : datum.value == 1 ? '1' : datum.value == 0.1 ? '10⁻¹' : '10⁻²'", "labelFont": "Liberation Serif", "labelFontSize": 42, "labelColor": "#000", "labelPadding": 32, "labelOverlap": false, "labelFlush": false, "ticks": false, "domain": true, "domainColor": "#000", "domainWidth": 3, "domainCap": "square", "grid": false, "title": "beam lifetime [h]", "titleFont": "Liberation Serif", "titleFontSize": 45, "titleFontWeight": "normal", "titleColor": "#000", "titleX": -111, "titleY": 237, "titleAngle": 270, "titleAlign": "center", "titleBaseline": "middle"}},
"stroke": {"field": "b", "type": "nominal", "scale": {"domain": ["B1 BLM", "B2 BLM"], "range": ["#1e40ff", "#ff2d0a"]},
"legend": {"title": "ADJUST 2011", "orient": "none", "legendX": 55, "legendY": 348, "padding": 0, "titleLimit": 600, "titleFont": "Liberation Sans", "titleFontSize": 33, "titleFontWeight": "bold", "titleColor": "#000", "titlePadding": 0, "labelFont": "Liberation Serif", "labelFontSize": 34, "labelColor": "#000", "labelLimit": 400, "symbolType": "circle", "symbolSize": 100, "symbolStrokeWidth": 1.6, "symbolFillColor": "transparent", "symbolOffset": 5, "labelOffset": 7, "rowPadding": -5, "encode": {"symbols": {"update": {"fill": {"value": "transparent"}}}}}}
}
},
{
"transform": [{"filter": "datum.f == 1"}],
"mark": {"type": "point", "shape": "circle", "filled": true, "size": 90, "opacity": 1},
"encoding": {
"x": {"field": "d", "type": "quantitative", "scale": {"domain": [-8.3, 259.5], "range": [-9, 1737], "nice": false, "zero": false},
"axis": {"orient": "top", "values": [0,10,20,30,40,50,60,70,80,90,100,110,120,130,140,150,160,170,180,190,200,210,220,230,240,250], "labels": false, "title": null, "grid": false, "domain": true, "domainColor": "#000", "domainWidth": 3, "domainCap": "square", "ticks": true, "tickColor": "#000", "tickWidth": 2, "tickSize": {"condition": {"test": "datum.value % 30 == 20", "value": -28}, "value": -14}}},
"y": {"field": "v", "type": "quantitative", "scale": {"type": "log", "domain": [0.01, 10], "nice": false},
"axis": {"orient": "left", "offset": 9, "values": [0.01,0.02,0.03,0.04,0.05,0.06,0.07,0.08,0.09,0.1,0.2,0.3,0.4,0.5,0.6,0.7,0.8,0.9,1,2,3,4,5,6,7,8,9,10], "labels": false, "domain": false, "grid": false, "title": null, "ticks": true, "tickColor": "#000", "tickWidth": 2, "tickSize": {"condition": {"test": "datum.value == 0.1 || datum.value == 1", "value": -75}, "value": -37}}},
"fill": {"condition": {"test": "datum.b == 'B1 BLM'", "value": "#1e40ff"}, "value": "#ff2d0a"}
}
},
{
"data": {"values": [{}]},
"mark": {"type": "rule", "color": "#000", "strokeWidth": 7, "opacity": 0.12},
"encoding": {"x": {"datum": -9.6, "type": "quantitative", "axis": null}, "x2": {"datum": 260.3}, "y": {"datum": 0.955, "type": "quantitative", "axis": null}}
},
{
"data": {"values": [{}]},
"mark": {"type": "rule", "color": "#ff0000", "strokeWidth": 5},
"encoding": {"x": {"datum": -9.6, "type": "quantitative", "axis": null}, "x2": {"datum": 260.3},
"y": {"datum": 1, "type": "quantitative",
"axis": {"orient": "right", "values": [0.01,0.02,0.03,0.04,0.05,0.06,0.07,0.08,0.09,0.1,0.2,0.3,0.4,0.5,0.6,0.7,0.8,0.9,1,2,3,4,5,6,7,8,9,10], "labels": false, "domain": true, "domainColor": "#000", "domainWidth": 3, "domainCap": "square", "grid": false, "title": null, "ticks": true, "tickColor": "#000", "tickWidth": 2, "tickSize": {"condition": {"test": "datum.value == 0.1 || datum.value == 1", "value": -75}, "value": -37}}}}
},
{
"data": {"values": [{}]},
"mark": {"type": "rect", "cornerRadius": 5, "color": "#000", "opacity": 0.3},
"encoding": {"x": {"datum": 232.6, "type": "quantitative", "axis": null}, "x2": {"datum": 257.1}, "y": {"datum": 0.034, "type": "quantitative", "axis": null}, "y2": {"datum": 0.011}}
},
{
"data": {"values": [{}]},
"mark": {"type": "rect", "cornerRadius": 5, "stroke": "#0c0c80", "strokeWidth": 1, "fill": {"gradient": "linear", "x1": 0, "y1": 0, "x2": 0, "y2": 1, "stops": [{"offset": 0, "color": "#6a78ff"}, {"offset": 0.08, "color": "#3434e8"}, {"offset": 0.5, "color": "#2222d0"}, {"offset": 0.9, "color": "#1a1ab8"}, {"offset": 1, "color": "#121290"}]}},
"encoding": {"x": {"datum": 231.9, "type": "quantitative", "axis": null}, "x2": {"datum": 256.4}, "y": {"datum": 0.036, "type": "quantitative", "axis": null}, "y2": {"datum": 0.0117}}
},
{
"data": {"values": [{}]},
"mark": {"type": "text", "text": "2011", "font": "Open Sans", "fontSize": 50, "fontWeight": 500, "color": "#ffffff", "align": "center", "baseline": "middle"},
"encoding": {"x": {"datum": 244.15, "type": "quantitative", "axis": null}, "y": {"datum": 0.0205, "type": "quantitative", "axis": null}}
}
]
},
{
"width": 1739, "height": 468,
"data": {"name": "y2012"},
"resolve": {"axis": {"x": "independent", "y": "independent"}},
"layer": [
{
"transform": [{"filter": "datum.f == 0"}],
"mark": {"type": "point", "filled": false, "size": 240, "strokeWidth": 2, "opacity": 1, "clip": true},
"encoding": {
"x": {"field": "u", "type": "quantitative", "scale": {"domain": [-5.6, 145.7], "nice": false, "zero": false},
"axis": {"orient": "bottom", "values": [0,10,20,30,40,50,60,70,80,90,100,110,120,130,140], "labels": false, "title": null, "grid": false, "domain": false, "ticks": true, "tickColor": "#000", "tickWidth": 2.5, "tickSize": {"condition": {"test": "datum.value % 30 == 20", "value": -23}, "value": -12}}},
"y": {"field": "v", "type": "quantitative", "scale": {"type": "log", "domain": [0.0195, 20.7], "nice": false},
"axis": {"orient": "left", "values": [0.1, 1, 10], "labelExpr": "datum.value == 10 ? '10' : datum.value == 1 ? '1' : '10⁻¹'", "labelFont": "Liberation Serif", "labelFontSize": 54, "labelColor": "#000", "labelPadding": 44, "labelOverlap": false, "labelFlush": false, "ticks": false, "domain": false, "grid": false, "title": "beam lifetime [h]", "titleFont": "Liberation Serif", "titleFontSize": 56, "titleFontWeight": "normal", "titleColor": "#000", "titleX": -126, "titleY": 234, "titleAngle": 270, "titleAlign": "center", "titleBaseline": "middle"}},
"stroke": {"field": "b", "type": "nominal", "scale": {"domain": ["BEAM 1", "BEAM 2"], "range": ["#1e40ff", "#ff2d0a"]},
"legend": {"title": "2012-ADJUST", "orient": "none", "legendX": 410, "legendY": 328, "padding": 0, "titleFont": "Liberation Sans", "titleFontSize": 20, "titleFontWeight": "bold", "titleColor": "#000", "titlePadding": 19, "labelFont": "Liberation Serif", "labelFontSize": 20, "labelColor": "#000", "symbolSize": 250, "symbolStrokeWidth": 2, "symbolFillColor": "transparent", "symbolOffset": 10, "labelOffset": 14, "rowPadding": 14, "encode": {"symbols": {"update": {"fill": {"value": "transparent"}}}}}},
"shape": {"field": "b", "type": "nominal", "scale": {"domain": ["BEAM 1", "BEAM 2"], "range": ["circle", "square"]},
"legend": {"title": "2012-ADJUST", "orient": "none", "legendX": 410, "legendY": 328, "padding": 0, "titleFont": "Liberation Sans", "titleFontSize": 20, "titleFontWeight": "bold", "titleColor": "#000", "titlePadding": 19, "labelFont": "Liberation Serif", "labelFontSize": 20, "labelColor": "#000", "symbolSize": 250, "symbolStrokeWidth": 2, "symbolFillColor": "transparent", "symbolOffset": 10, "labelOffset": 14, "rowPadding": 14, "encode": {"symbols": {"update": {"fill": {"value": "transparent"}}}}}}
}
},
{
"transform": [{"filter": "datum.f == 1"}],
"mark": {"type": "point", "filled": true, "size": 170, "opacity": 1, "clip": true},
"encoding": {
"x": {"field": "u", "type": "quantitative", "scale": {"domain": [-5.6, 145.7], "nice": false, "zero": false},
"axis": {"orient": "top", "values": [0,10,20,30,40,50,60,70,80,90,100,110,120,130,140], "labels": false, "title": null, "grid": false, "domain": false, "ticks": true, "tickColor": "#000", "tickWidth": 2.5, "tickSize": {"condition": {"test": "datum.value % 30 == 20", "value": -23}, "value": -12}}},
"y": {"field": "v", "type": "quantitative", "scale": {"type": "log", "domain": [0.0195, 20.7], "nice": false},
"axis": {"orient": "left", "values": [0.02,0.03,0.04,0.05,0.06,0.07,0.08,0.09,0.1,0.2,0.3,0.4,0.5,0.6,0.7,0.8,0.9,1,2,3,4,5,6,7,8,9,10,20], "labels": false, "domain": false, "grid": false, "title": null, "ticks": true, "tickColor": "#000", "tickWidth": 2.5, "tickSize": {"condition": {"test": "datum.value == 0.1 || datum.value == 1 || datum.value == 10", "value": -98}, "value": -49}}},
"fill": {"condition": {"test": "datum.b == 'BEAM 1'", "value": "#1e40ff"}, "value": "#ff2d0a"},
"shape": {"condition": {"test": "datum.b == 'BEAM 1'", "value": "circle"}, "value": "square"}
}
},
{
"data": {"name": "dash"},
"mark": {"type": "rule", "color": "#ff3a10", "strokeWidth": 4, "strokeDash": [11, 6]},
"encoding": {"x": {"field": "u", "type": "quantitative", "axis": null}}
},
{
"data": {"values": [{}]},
"mark": {"type": "rule", "color": "#000", "strokeWidth": 7, "opacity": 0.12},
"encoding": {"x": {"datum": -5.6, "type": "quantitative", "axis": null}, "x2": {"datum": 146.0}, "y": {"datum": 0.955, "type": "quantitative", "axis": null}}
},
{
"data": {"values": [{}]},
"mark": {"type": "rule", "color": "#ff0000", "strokeWidth": 5},
"encoding": {"x": {"datum": -5.6, "type": "quantitative", "axis": null}, "x2": {"datum": 146.0},
"y": {"datum": 1, "type": "quantitative",
"axis": {"orient": "right", "values": [0.02,0.03,0.04,0.05,0.06,0.07,0.08,0.09,0.1,0.2,0.3,0.4,0.5,0.6,0.7,0.8,0.9,1,2,3,4,5,6,7,8,9,10,20], "labels": false, "domain": false, "grid": false, "title": null, "ticks": true, "tickColor": "#000", "tickWidth": 2.5, "tickSize": {"condition": {"test": "datum.value == 0.1 || datum.value == 1 || datum.value == 10", "value": -98}, "value": -49}}}}
},
{
"data": {"values": [{}]},
"mark": {"type": "rect", "fill": "#ffffff", "stroke": "#000", "strokeWidth": 2.5},
"encoding": {"x": {"datum": 29.7, "type": "quantitative", "axis": null}, "x2": {"datum": 46.4}, "y": {"datum": 0.1814, "type": "quantitative", "axis": null}, "y2": {"datum": 0.0323}}
},
{
"data": {"values": [{}]},
"mark": {"type": "rect", "cornerRadius": 5, "color": "#000", "opacity": 0.3},
"encoding": {"x": {"datum": 130.25, "type": "quantitative", "axis": null}, "x2": {"datum": 144.15}, "y": {"datum": 0.0742, "type": "quantitative", "axis": null}, "y2": {"datum": 0.0239}}
},
{
"data": {"values": [{}]},
"mark": {"type": "rect", "cornerRadius": 5, "stroke": "#0c0c80", "strokeWidth": 1, "fill": {"gradient": "linear", "x1": 0, "y1": 0, "x2": 0, "y2": 1, "stops": [{"offset": 0, "color": "#6a78ff"}, {"offset": 0.08, "color": "#3434e8"}, {"offset": 0.5, "color": "#2222d0"}, {"offset": 0.9, "color": "#1a1ab8"}, {"offset": 1, "color": "#121290"}]}},
"encoding": {"x": {"datum": 129.9, "type": "quantitative", "axis": null}, "x2": {"datum": 143.8}, "y": {"datum": 0.0788, "type": "quantitative", "axis": null}, "y2": {"datum": 0.0254}}
},
{
"data": {"values": [{}]},
"mark": {"type": "text", "text": "2012", "font": "Open Sans", "fontSize": 50, "fontWeight": 500, "color": "#ffffff", "align": "center", "baseline": "middle"},
"encoding": {"x": {"datum": 136.85, "type": "quantitative", "axis": null}, "y": {"datum": 0.0447, "type": "quantitative", "axis": null}}
},
{
"data": {"values": [{}]},
"mark": {"type": "rect", "fill": "#ffffff", "stroke": "#000", "strokeWidth": 2},
"encoding": {"x": {"datum": 102.9, "type": "quantitative", "axis": null}, "x2": {"datum": 126.7}, "y": {"datum": 0.01466, "type": "quantitative", "axis": null}, "y2": {"datum": 0.0059}}
},
{
"data": {"values": [{}]},
"mark": {"type": "text", "text": "B. Salvachua", "font": "Liberation Sans", "fontSize": 38, "fontWeight": "bold", "fontStyle": "italic", "color": "#000", "align": "center", "baseline": "middle"},
"encoding": {"x": {"datum": 114.8, "type": "quantitative", "axis": null}, "y": {"datum": 0.0087, "type": "quantitative", "axis": null}}
}
]
}
]
}
